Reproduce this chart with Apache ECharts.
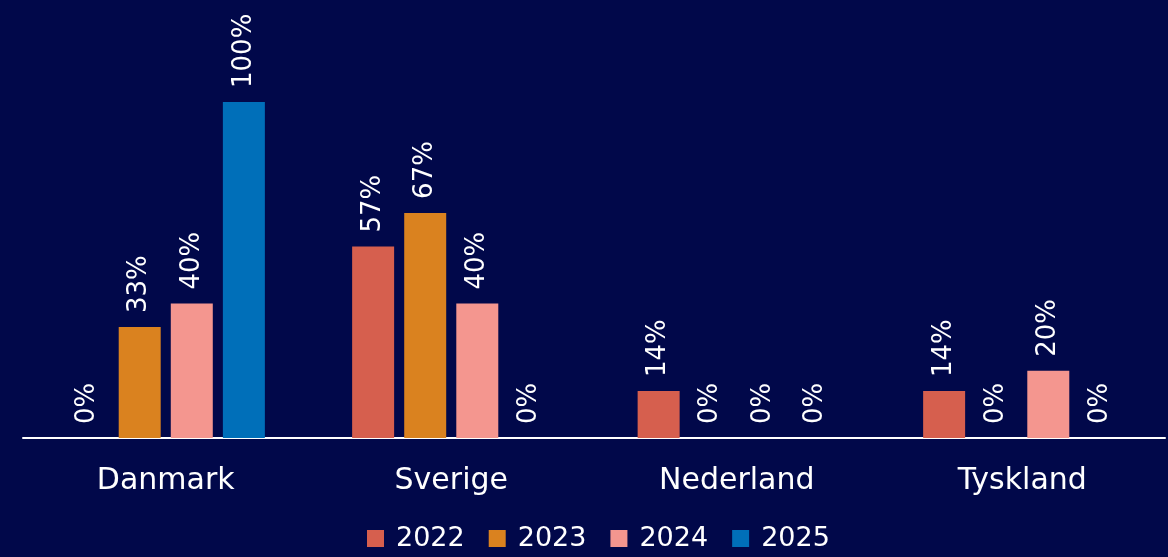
<!DOCTYPE html>
<html>
<head>
<meta charset="utf-8">
<script src="https://cdn.jsdelivr.net/npm/echarts@6/dist/echarts.min.js"></script>
<style>
html,body{margin:0;padding:0;background:#01084a;}
#main{width:1168px;height:557px;}
</style>
</head>
<body>
<div id="main"></div>
<script>
// data (percent)
var categories = ['Danmark', 'Sverige', 'Nederland', 'Tyskland'];
var years = ['2022', '2023', '2024', '2025'];
var v2022 = [0, 57, 14, 14];
var v2023 = [33, 67, 0, 0];
var v2024 = [40, 40, 0, 20];
var v2025 = [100, 0, 0, 0];
var colors = ['#d65f4e', '#da821f', '#f4968f', '#006fb9'];

var font = '"DejaVu Sans", sans-serif';
var values = [v2022, v2023, v2024, v2025];
var series = [];
for (var i = 0; i < years.length; i++) {
  series.push({
    name: years[i],
    type: 'bar',
    data: values[i],
    barWidth: 42,
    barGap: '24%',
    itemStyle: { color: colors[i] },
    label: {
      show: true,
      position: 'top',
      rotate: 90,
      align: 'left',
      verticalAlign: 'middle',
      distance: 14,
      color: '#ffffff',
      fontFamily: font,
      fontSize: 26,
      formatter: '{c}%'
    }
  });
}

var myChart = echarts.init(document.getElementById('main'));
var option = {
  backgroundColor: '#01084a',
  animation: false,
  color: colors,
  grid: { left: 23, right: 3, top: 102, bottom: 119 },
  legend: {
    data: years,
    bottom: 0,
    left: 362,
    itemWidth: 17,
    itemHeight: 17,
    itemGap: 24,
    icon: 'rect',
    textStyle: { color: '#ffffff', fontSize: 27, fontFamily: font, padding: [0, 0, 0, 7] }
  },
  xAxis: {
    type: 'category',
    data: categories,
    axisLine: { lineStyle: { color: '#ffffff', width: 2 } },
    axisTick: { show: false },
    axisLabel: { color: '#ffffff', fontSize: 30, fontFamily: font, margin: 28 }
  },
  yAxis: {
    type: 'value',
    min: 0,
    max: 100,
    show: false,
    splitLine: { show: false }
  },
  series: series
};
myChart.setOption(option);
</script>
</body>
</html>
